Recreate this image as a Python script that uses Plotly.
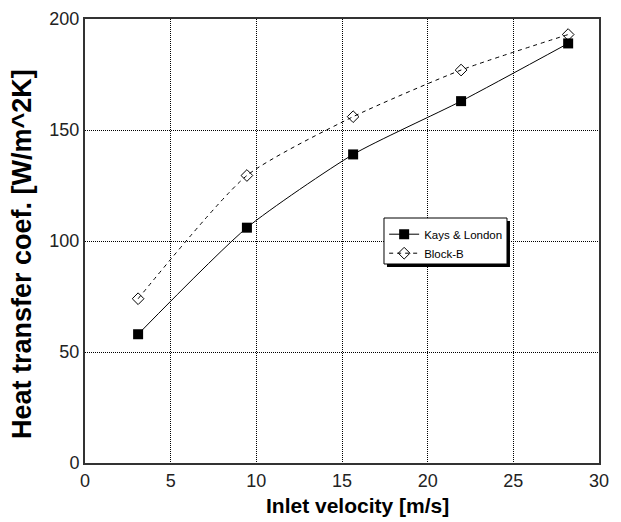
import plotly.graph_objects as go

velocity = [3.1, 9.45, 15.65, 21.95, 28.2]
kays_london = [58, 106, 139, 163, 189]
block_b = [74, 129.5, 156, 177, 193]
x_ticks = [0, 5, 10, 15, 20, 25, 30]
y_ticks = [0, 50, 100, 150, 200]
x_title = "Inlet velocity [m/s]"
y_title = "Heat transfer coef. [W/m^2K]"

fig = go.Figure()
fig.add_trace(go.Scatter(
    x=velocity, y=kays_london, name="Kays & London", mode="lines+markers",
    line=dict(color="black", width=1, shape="spline", smoothing=0.6),
    marker=dict(symbol="square", size=10, color="black"),
))
fig.add_trace(go.Scatter(
    x=velocity, y=block_b, name="Block-B", mode="lines+markers",
    line=dict(color="black", width=1, dash="4px,4px", shape="spline", smoothing=0.6),
    marker=dict(symbol="diamond-open", size=9, color="black", line=dict(width=1)),
))

tickfont = dict(family="Liberation Sans", size=18, color="#222")

# legend frame with drop shadow (paper coords)
fig.add_shape(type="rect", xref="paper", yref="paper",
              x0=0.5875, x1=0.8268, y0=0.4414, y1=0.545,
              fillcolor="black", line=dict(width=0), layer="above")
fig.add_shape(type="rect", xref="paper", yref="paper",
              x0=0.5817, x1=0.821, y0=0.4482, y1=0.5518,
              fillcolor="white", line=dict(color="black", width=1), layer="above")

fig.add_annotation(text=x_title, xref="paper", yref="paper", x=0.531, y=-0.0946,
                   xanchor="center", yanchor="middle", showarrow=False,
                   font=dict(family="Liberation Sans", size=21, color="black", weight="bold"))
fig.add_annotation(text=y_title, xref="paper", yref="paper", x=-0.1226, y=0.4707,
                   xanchor="center", yanchor="middle", showarrow=False, textangle=-90,
                   font=dict(family="Liberation Sans", size=27, color="black", weight="bold"))

# page body has an 8px margin, so the figure is shifted by 8px inside the window
fig.update_layout(
    width=621, height=522,
    margin=dict(l=77, r=30, t=11, b=67, autoexpand=False),
    paper_bgcolor="white", plot_bgcolor="white",
    showlegend=True,
    legend=dict(
        x=0.582, y=0.548, xanchor="left", yanchor="top",
        bgcolor="rgba(0,0,0,0)", borderwidth=0,
        font=dict(family="Liberation Sans", size=11.5, color="black"),
        tracegroupgap=0, itemwidth=30,
    ),
    xaxis=dict(
        range=[0, 30], tickvals=x_ticks, ticks="", tickfont=tickfont,
        showgrid=True, gridcolor="black", griddash="1px,1px", gridwidth=1,
        showline=True, linecolor="#333", linewidth=2, mirror=True,
        zeroline=False, automargin=False,
    ),
    yaxis=dict(
        range=[0, 200], tickvals=y_ticks, ticks="", tickfont=tickfont,
        showgrid=True, gridcolor="black", griddash="1px,1px", gridwidth=1,
        showline=True, linecolor="#333", linewidth=2, mirror=True,
        zeroline=False, automargin=False,
    ),
)
fig.write_html("out.html")
